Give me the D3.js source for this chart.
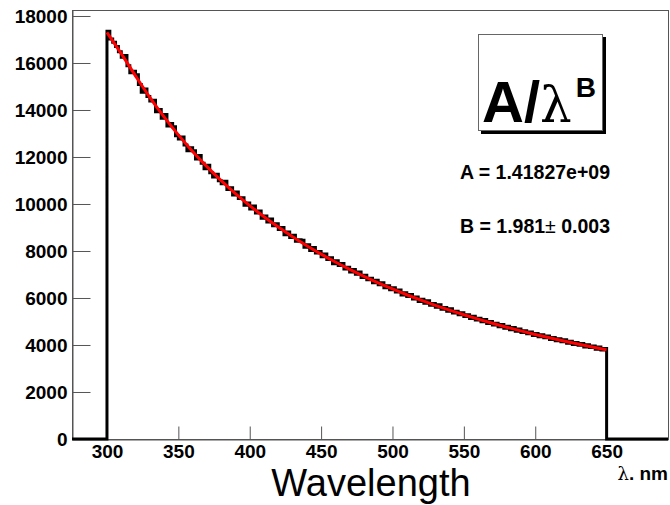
<!DOCTYPE html>
<html><head><meta charset="utf-8">
<script src="https://cdn.jsdelivr.net/npm/d3@7"></script>
<style>body{margin:0;background:#fff}svg{display:block}</style>
</head><body>
<svg id="c" width="670" height="505"></svg>
<script>
// ---- data ----
const binStart = 300, binWidth = 2;
const counts = [
17350,17020,16880,16700,16480, 16240,16320,15880,15580,15650,
15500,15080,14760,14890,14570, 14380,14410,13920,14020,13650,
13810,13320,13420,13290,12900, 12770,12850,12510,12270,12390,
12270,11920,12060,11730,11500, 11650,11330,11150,11270,10990,
10860,10970,10620,10690,10380, 10510,10230,10270,9950,10040,
9790,9910,9620,9700,9390, 9490,9230,9360,9070,9160,
8920,9000,8690,8810,8570, 8670,8410,8480,8460,8160,
8270,8020,8150,7910,7980, 7750,7870,7640,7710,7460,
7580,7380,7470,7230,7310, 7110,7210,7010,7110,6870,
6970,6780,6840,6650,6750, 6560,6650,6440,6520,6350,
6440,6250,6340,6130,6220, 6060,6150,5960,6040,5850,
5950,5780,5880,5690,5770, 5610,5710,5520,5600,5440,
5540,5360,5440,5290,5370, 5210,5290,5130,5220,5060,
5140,4990,5090,4920,5000, 4850,4930,4780,4870,4710,
4800,4650,4740,4590,4680, 4530,4610,4480,4550,4400,
4490,4350,4440,4310,4380, 4230,4320,4180,4270,4140,
4220,4070,4160,4020,4110, 3990,4060,3920,4010,3890,
3960,3820,3920,3790,3850
];
const fitX = [300,310,320,330,340,350,360,370,380,390,400,410,420,430,440,450,460,470,480,490,500,510,520,530,540,550,560,570,580,590,600,610,620,630,640,650];
const fitY = [17300,16400,15454,14540,13706,12940,12238,11591,10995,10444,9933,9458,9018,8607,8224,7866,7531,7217,6922,6645,6384,6139,5907,5688,5481,5286,5101,4925,4758,4600,4449,4306,4169,4039,3915,3796];
const xMajor = [300,350,400,450,500,550,600,650];
const yMajor = [0,2000,4000,6000,8000,10000,12000,14000,16000,18000];
const xDomain = [275.5, 693];
const yDomain = [0, 18255];
const titleText = "Wavelength";
const unitText = "nm";
const paramA = "A = 1.41827e+09";
const paramB = "B = 1.981";
const paramBerr = "0.003";

// ---- layout ----
const L = 72, R = 668, T = 10, B = 439;
const svg = d3.select("#c");
const x = d3.scaleLinear().domain(xDomain).range([L, R]);
const y = d3.scaleLinear().domain(yDomain).range([B, T]);
const FONT = "'Liberation Sans', Arial, Helvetica, sans-serif";

// frame
svg.append("rect").attr("x", L + 0.5).attr("y", T + 0.5).attr("width", R - L).attr("height", B - T)
  .attr("fill", "none").attr("stroke", "#555").attr("stroke-width", 1);

// ticks
const xMinor = d3.range(280, 691, 10).filter(v => !xMajor.includes(v));
const yMinor = d3.range(500, 18001, 500).filter(v => !yMajor.includes(v));
const gx = svg.append("g").attr("transform", `translate(0,${B + 0.5})`);
gx.call(d3.axisBottom(x).tickValues(xMinor).tickSize(-7).tickFormat(""));
gx.call(d3.axisBottom(x).tickValues(xMajor).tickSize(-13).tickFormat(d3.format("d")).tickPadding(5));
gx.selectAll("line").attr("stroke", "#555");
gx.selectAll(".domain").attr("stroke", "#555");
gx.selectAll("text").attr("font-family", FONT).attr("font-weight", "bold").attr("font-size", 19).attr("fill", "#000");

const gy = svg.append("g").attr("transform", `translate(${L + 0.5},0)`);
gy.call(d3.axisLeft(y).tickValues(yMinor).tickSize(-10).tickFormat(""));
gy.call(d3.axisLeft(y).tickValues(yMajor).tickSize(-18).tickFormat(d3.format("d")));
gy.selectAll("line").attr("stroke", "#555");
gy.selectAll(".domain").attr("stroke", "#555");
gy.selectAll("text").attr("font-family", FONT).attr("font-weight", "bold").attr("font-size", 19).attr("fill", "#000")
  .attr("x", -5);

// histogram step path
const pts = [[xDomain[0], 0], [binStart, 0]];
counts.forEach((c, i) => {
  const x0 = binStart + i * binWidth;
  pts.push([x0, c]); pts.push([x0 + binWidth, c]);
});
const xEnd = binStart + counts.length * binWidth;
pts.push([xEnd, 0]); pts.push([xDomain[1], 0]);
svg.append("path").attr("d", d3.line().x(d => x(d[0])).y(d => y(d[1]))(pts))
  .attr("fill", "none").attr("stroke", "#000").attr("stroke-width", 3).attr("stroke-linejoin", "miter");

// fit curve
svg.append("path").attr("d", d3.line().x((d, i) => x(fitX[i])).y(d => y(d)).curve(d3.curveMonotoneX)(fitY))
  .attr("fill", "none").attr("stroke", "#ff0000").attr("stroke-width", 3);

// legend box
svg.append("rect").attr("x", 481).attr("y", 37).attr("width", 125).attr("height", 97).attr("fill", "#000");
svg.append("rect").attr("x", 478.5).attr("y", 34.5).attr("width", 124).attr("height", 96)
  .attr("fill", "#fff").attr("stroke", "#666").attr("stroke-width", 1);
const lt = svg.append("text").attr("x", 482).attr("y", 122).attr("font-family", FONT).attr("fill", "#000");
lt.append("tspan").attr("font-weight", "bold").attr("font-size", 58).text("A/");
lt.append("tspan").attr("font-size", 50).attr("font-family", "'DejaVu Serif', serif").text("λ");
lt.append("tspan").attr("font-weight", "bold").attr("font-size", 28).attr("dx", 4).attr("dy", -25).text("B");

// parameters
svg.append("text").attr("x", 460).attr("y", 179).attr("font-family", FONT)
  .attr("font-weight", "bold").attr("font-size", 19.5).text(paramA);
const pb = svg.append("text").attr("x", 460).attr("y", 233).attr("font-family", FONT)
  .attr("font-weight", "bold").attr("font-size", 19.5);
pb.append("tspan").text(paramB);
pb.append("tspan").attr("font-weight", "normal").text("±");
pb.append("tspan").text(" " + paramBerr);

// axis titles
svg.append("text").attr("x", 371).attr("y", 496).attr("text-anchor", "middle").attr("font-family", FONT)
  .attr("font-size", 38).attr("fill", "#000").text(titleText);
const ut = svg.append("text").attr("x", 668).attr("y", 480).attr("text-anchor", "end").attr("font-family", FONT)
  .attr("font-size", 19).attr("fill", "#000");
ut.append("tspan").attr("font-family", "'DejaVu Serif', serif").attr("font-size", 18).text("λ");
ut.append("tspan").attr("font-weight", "bold").text(". " + unitText);
</script>
</body></html>
